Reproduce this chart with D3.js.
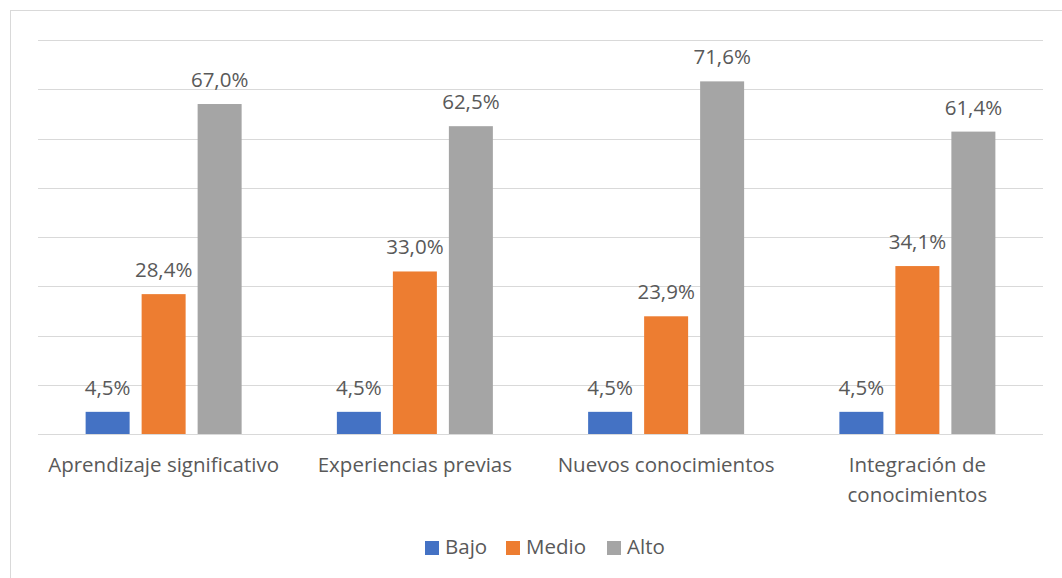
<!DOCTYPE html>
<html><head><meta charset="utf-8">
<script src="https://cdn.jsdelivr.net/npm/d3@7"></script>
<style>body{margin:0;background:#fff}svg{display:block}text{font-family:"Open Sans","Noto Sans",sans-serif;fill:#595959}</style>
</head><body><svg id="c" width="1062" height="578"></svg>
<script>
const categories = [["Aprendizaje significativo"],["Experiencias previas"],["Nuevos conocimientos"],["Integración de","conocimientos"]];
const series = ["Bajo","Medio","Alto"];
const bajo = [4.5,4.5,4.5,4.5];
const medio = [28.4,33.0,23.9,34.1];
const alto = [67.0,62.5,71.6,61.4];
const yTicks = [0,10,20,30,40,50,60,70,80];
const colors = ["#4472c4","#ed7d31","#a5a5a5"];
const values = [bajo, medio, alto];

(function(){
const svg = d3.select("#c");
svg.append("rect").attr("x",10.5).attr("y",10.5).attr("width",1060).attr("height",580).attr("fill","none").attr("stroke","#d9d9d9");

const pL=38,pR=1043,pT=40,pB=434;
const x0 = d3.scaleBand().domain(d3.range(categories.length)).range([pL,pR]);
const x1 = d3.scaleBand().domain(series).range([0,168]).paddingInner(12/56).paddingOuter(6/56);
const off = (x0.bandwidth()-168)/2;
const y = d3.scaleLinear().domain([0,80]).range([pB,pT]);

svg.append("g").selectAll("line").data(yTicks).join("line")
 .attr("x1",pL).attr("x2",pR).attr("y1",d=>Math.round(y(d))+0.5).attr("y2",d=>Math.round(y(d))+0.5)
 .attr("stroke","#d9d9d9").attr("stroke-width",1);

const fmt = v => v.toFixed(1).replace(".",",")+"%";
series.forEach((s,si)=>{
  const g = svg.append("g");
  values[si].forEach((v,ci)=>{
    const bx = x0(ci)+off+x1(s);
    g.append("rect").attr("x",bx).attr("y",y(v)).attr("width",x1.bandwidth()).attr("height",y(0)-y(v)).attr("fill",colors[si]);
    g.append("text").attr("x",bx+x1.bandwidth()/2).attr("y",y(v)-17).attr("text-anchor","middle").attr("font-size",20.5).text(fmt(v));
  });
});

categories.forEach((lines,ci)=>{
  const cx = x0(ci)+x0.bandwidth()/2;
  const t = svg.append("text").attr("x",cx).attr("y",472).attr("text-anchor","middle").attr("font-size",20.5);
  lines.forEach((l,li)=>t.append("tspan").attr("x",cx).attr("dy",li?30:0).text(l));
});

const legX=[425,506,607];
series.forEach((s,si)=>{
  svg.append("rect").attr("x",legX[si]).attr("y",541).attr("width",14).attr("height",14).attr("fill",colors[si]);
  svg.append("text").attr("x",legX[si]+20).attr("y",554).attr("font-size",20.5).text(s);
});
})();
</script></body></html>
